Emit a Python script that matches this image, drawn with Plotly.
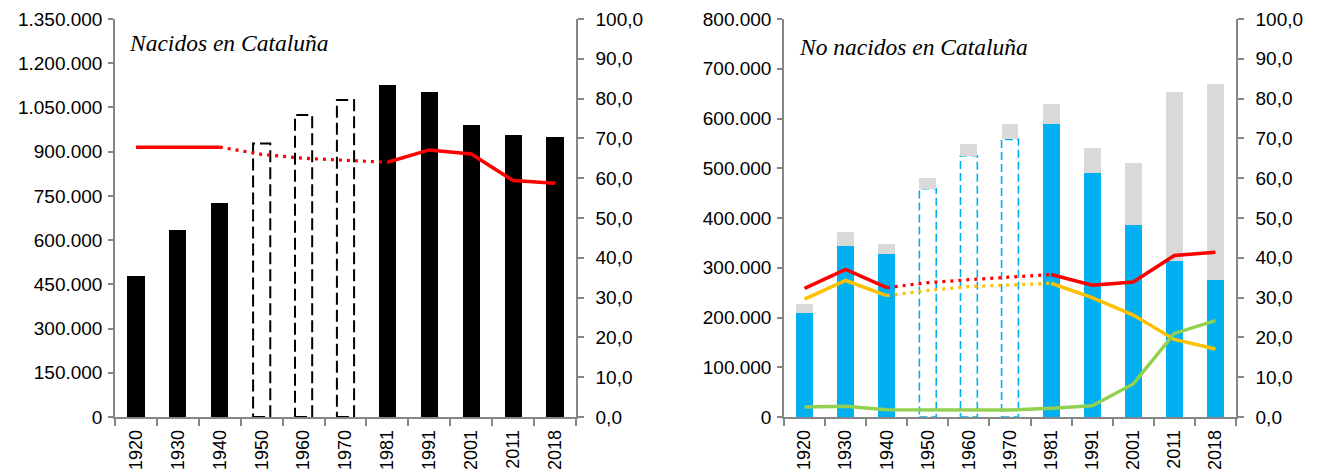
import plotly.graph_objects as go

# ---------------- data ----------------
years = ["1920", "1930", "1940", "1950", "1960", "1970", "1981", "1991", "2001", "2011", "2018"]
estimated_years = ["1950", "1960", "1970"]

# Left panel: Nacidos en Cataluña
nacidos_cat = [479000, 635000, 727000, 928000, 1024000, 1075000, 1125000, 1102000, 992000, 957000, 950000]
pct_nacidos_cat = [67.8, 67.8, 67.8, 66.0, 65.0, 64.5, 64.0, 67.1, 66.1, 59.4, 58.7]

# Right panel: No nacidos en Cataluña
resto_espana = [209000, 343000, 328000, 459000, 525000, 558000, 589000, 491000, 385000, 314000, 276000]
extranjero = [18000, 28000, 19000, 22000, 23000, 31000, 40000, 50000, 125000, 339000, 393000]
pct_no_nacidos = [32.3, 37.1, 32.5, 33.75, 34.5, 35.2, 35.8, 33.1, 33.9, 40.6, 41.4]
pct_resto_espana = [29.6, 34.3, 30.5, 31.8, 32.75, 33.25, 33.6, 30.0, 25.6, 19.5, 17.1]
pct_extranjero = [2.5, 2.7, 1.8, 1.75, 1.6, 1.75, 2.2, 2.8, 8.3, 21.0, 24.2]

# ---------------- helpers ----------------
est = [y in estimated_years for y in years]
n = len(years)


def solid_part(vals):
    return [v if not est[i] else None for i, v in enumerate(vals)]


def dotted_part(vals):
    out = []
    for i, v in enumerate(vals):
        near = est[i] or (i > 0 and est[i - 1]) or (i < n - 1 and est[i + 1])
        out.append(v if near else None)
    return out


BAR_W = 0.41
RED = "#FF0000"
YEL = "#FFC000"
GRN = "#92D050"
BLUE = "#00B0F0"
GRAY = "#D9D9D9"
AX = "#868686"
TICKFONT = dict(family="Liberation Sans, Arial, sans-serif", size=19, color="#000000")
XTICKFONT = dict(family="Liberation Sans, Arial, sans-serif", size=18, color="#000000")
DOT = "3px,5px"

fig = go.Figure()

# ---- left panel ----
fig.add_trace(go.Bar(
    x=years, y=nacidos_cat, width=BAR_W, xaxis="x", yaxis="y",
    marker=dict(color=["rgba(0,0,0,0)" if e else "#000000" for e in est], line=dict(width=0)),
    showlegend=False))
fig.add_trace(go.Scatter(
    x=years, y=solid_part(pct_nacidos_cat), xaxis="x", yaxis="y2", mode="lines",
    line=dict(color=RED, width=3.5), connectgaps=False, showlegend=False))
fig.add_trace(go.Scatter(
    x=years, y=dotted_part(pct_nacidos_cat), xaxis="x", yaxis="y2", mode="lines",
    line=dict(color=RED, width=3.2, dash=DOT), connectgaps=False, showlegend=False))

# ---- right panel ----
fig.add_trace(go.Bar(
    x=years, y=resto_espana, width=BAR_W, xaxis="x2", yaxis="y3",
    marker=dict(color=["rgba(0,0,0,0)" if e else BLUE for e in est], line=dict(width=0)),
    showlegend=False))
fig.add_trace(go.Bar(
    x=years, y=extranjero, width=BAR_W, xaxis="x2", yaxis="y3",
    marker=dict(color=GRAY, line=dict(width=0)), showlegend=False))

for vals, col in [(pct_no_nacidos, RED), (pct_resto_espana, YEL)]:
    fig.add_trace(go.Scatter(
        x=years, y=solid_part(vals), xaxis="x2", yaxis="y4", mode="lines",
        line=dict(color=col, width=3.5), connectgaps=False, showlegend=False))
    fig.add_trace(go.Scatter(
        x=years, y=dotted_part(vals), xaxis="x2", yaxis="y4", mode="lines",
        line=dict(color=col, width=3.2, dash=DOT), connectgaps=False, showlegend=False))
fig.add_trace(go.Scatter(
    x=years, y=pct_extranjero, xaxis="x2", yaxis="y4", mode="lines",
    line=dict(color=GRN, width=3.5), showlegend=False))

# dashed outlines for estimated years
shapes = []
for i, y in enumerate(years):
    if est[i]:
        shapes.append(dict(type="rect", xref="x", yref="y", x0=i - BAR_W / 2, x1=i + BAR_W / 2,
                           y0=0, y1=nacidos_cat[i], layer="below",
                           line=dict(color="#000000", width=2, dash="12px,5px"),
                           fillcolor="rgba(0,0,0,0)"))
        shapes.append(dict(type="rect", xref="x2", yref="y3", x0=i - BAR_W / 2, x1=i + BAR_W / 2,
                           y0=0, y1=resto_espana[i], layer="below",
                           line=dict(color=BLUE, width=1.6, dash="8px,4px"),
                           fillcolor="rgba(0,0,0,0)"))

W, H = 1319, 473
ydom = [1 - 417 / H, 1 - 19 / H]

xcommon = dict(type="category", showline=True, linecolor=AX, linewidth=1.5, ticks="outside",
               tickson="boundaries", ticklen=7, tickcolor=AX, tickwidth=1.5, tickangle=-90,
               tickfont=XTICKFONT, showgrid=False, zeroline=False, automargin=False,
               ticklabelstandoff=4, range=[-0.5, n - 0.5])
yleft = dict(showline=True, linecolor=AX, linewidth=1.5, ticks="outside", ticklen=5, tickcolor=AX,
             tickwidth=1.5, tickfont=TICKFONT, showgrid=False, zeroline=False, automargin=False,
             tickformat=",d", domain=ydom, ticklabelstandoff=2)
yright = dict(showline=True, linecolor=AX, linewidth=1.5, ticks="outside", ticklen=6, tickcolor=AX,
              tickwidth=1.5, tickfont=TICKFONT, showgrid=False, zeroline=False, automargin=False,
              tickformat=".1f", side="right", range=[0, 100], dtick=10, ticklabelstandoff=8)

fig.update_layout(
    width=W, height=H, margin=dict(l=0, r=0, t=0, b=0),
    paper_bgcolor="white", plot_bgcolor="rgba(0,0,0,0)",
    separators=",.", barmode="stack", bargap=0,
    xaxis=dict(xcommon, domain=[115 / W, 576 / W], anchor="y"),
    yaxis=dict(yleft, range=[0, 1350000], dtick=150000, anchor="x"),
    yaxis2=dict(yright, overlaying="y", anchor="x"),
    xaxis2=dict(xcommon, domain=[784 / W, 1236 / W], anchor="y3"),
    yaxis3=dict(yleft, range=[0, 800000], dtick=100000, anchor="x2"),
    yaxis4=dict(yright, overlaying="y3", anchor="x2"),
    shapes=shapes,
    annotations=[
        dict(text="<i>Nacidos en Cataluña</i>", xref="paper", yref="paper", x=127 / W, y=1 - 43 / H,
             xanchor="left", yanchor="middle", showarrow=False,
             font=dict(family="Liberation Serif, Times New Roman, serif", size=23.5, color="#000000")),
        dict(text="<i>No nacidos en Cataluña</i>", xref="paper", yref="paper", x=797 / W, y=1 - 47 / H,
             xanchor="left", yanchor="middle", showarrow=False,
             font=dict(family="Liberation Serif, Times New Roman, serif", size=23.5, color="#000000")),
    ],
)

fig.write_html("out.html", config={"displayModeBar": False},
               post_script="document.body.style.margin='0';")
